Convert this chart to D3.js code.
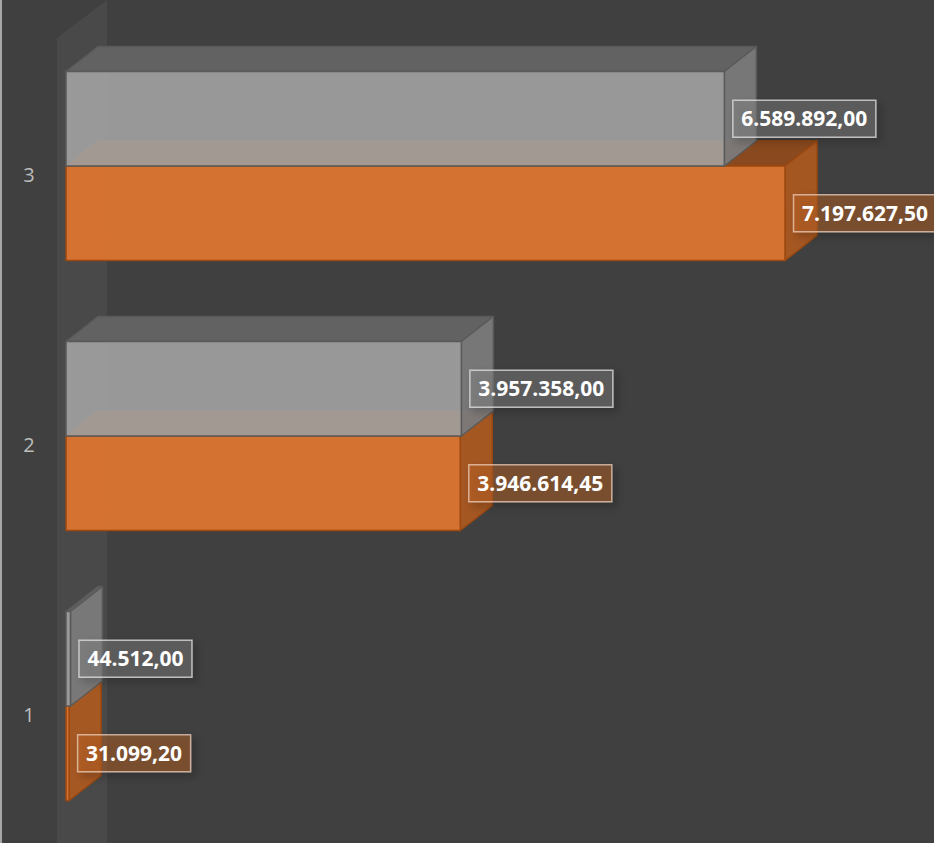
<!DOCTYPE html>
<html><head><meta charset="utf-8">
<script src="https://cdn.jsdelivr.net/npm/d3@7"></script>
<style>html,body{margin:0;padding:0;background:#404040;overflow:hidden}</style>
</head><body>
<svg id="c" width="934" height="843"></svg>
<script>
const categories = ["1", "2", "3"];
const seriesNames = ["Serie A", "Serie B"];
const seriesGray = [44512.00, 3957358.00, 6589892.00];
const seriesOrange = [31099.20, 3946614.45, 7197627.50];

const W = 934, H = 843;
const svg = d3.select("#c");
const defs = svg.append("defs");
const f = defs.append("filter").attr("id","sh").attr("x","-20%").attr("y","-30%").attr("width","150%").attr("height","180%");
f.append("feDropShadow").attr("dx",4).attr("dy",4).attr("stdDeviation",4).attr("flood-color","#000").attr("flood-opacity",0.45);

svg.append("rect").attr("width",W).attr("height",H).attr("fill","#404040");
svg.append("line").attr("x1",1).attr("x2",1).attr("y1",0).attr("y2",H).attr("stroke","#a8a8a8").attr("stroke-width",2);

const x = d3.scaleLinear().domain([0, 8000000]).range([66, 865.2]);
const y = d3.scaleBand().domain(categories.slice().reverse()).range([31, 841]).paddingInner(0.3).paddingOuter(0.15);
const ys = d3.scaleBand().domain(seriesNames).range([0, y.bandwidth()]);
const DX = 32, DY = -25;

// side wall
const wx = x(0) - 9;
svg.append("path").attr("d", `M${wx},38 L${wx+50},0 L${wx+50},${H} L${wx},${H} Z`).attr("fill","#4a4949");

const loc = d3.formatLocale({decimal:",", thousands:".", grouping:[3], currency:["",""]});
const fmt = loc.format(",.2f");

const styles = {
  "Serie A": {front:"#a6a6a6", top:"#646464", right:"#7c7c7c", stroke:"#5a5a5a", fo:0.86,
              boxFill:"rgba(140,140,140,0.35)", boxStroke:"rgba(225,225,225,0.75)"},
  "Serie B": {front:"#dc7531", top:"#8e4a1c", right:"#ad5920", stroke:"#9a4810", fo:0.95,
              boxFill:"rgba(190,100,40,0.42)", boxStroke:"rgba(235,205,185,0.75)"}
};

const rows = [];
categories.forEach((c,i)=>{
  rows.push({cat:c, s:"Serie B", v:seriesOrange[i]});
  rows.push({cat:c, s:"Serie A", v:seriesGray[i]});
});

function drawBox(g, d){
  const st = styles[d.s];
  const x0 = x(0), x1 = x(d.v);
  const y0 = y(d.cat) + ys(d.s), y1 = y0 + ys.bandwidth();
  g.append("path").attr("d",
    `M${x0+DX},${y0+DY} L${x0+DX},${y1+DY} L${x1+DX},${y1+DY} M${x0},${y1} L${x0+DX},${y1+DY}`)
    .attr("fill","none").attr("stroke",st.stroke).attr("stroke-width",1).attr("opacity",0.6);
  g.append("path").attr("d", `M${x0},${y0} L${x0+DX},${y0+DY} L${x1+DX},${y0+DY} L${x1},${y0} Z`)
    .attr("fill",st.top).attr("fill-opacity",0.95).attr("stroke",st.stroke).attr("stroke-width",1.5).attr("stroke-linejoin","round");
  g.append("path").attr("d", `M${x1},${y0} L${x1+DX},${y0+DY} L${x1+DX},${y1+DY} L${x1},${y1} Z`)
    .attr("fill",st.right).attr("fill-opacity",0.93).attr("stroke",st.stroke).attr("stroke-width",1.5).attr("stroke-linejoin","round");
  g.append("rect").attr("x",x0).attr("y",y0).attr("width",Math.max(0,x1-x0)).attr("height",y1-y0)
    .attr("fill",st.front).attr("fill-opacity",st.fo).attr("stroke",st.stroke).attr("stroke-width",1.5);
}

const bars = svg.append("g");
rows.forEach(d=>drawBox(bars.append("g"), d));

// category labels
svg.append("g").selectAll("text").data(categories).join("text")
  .attr("x",29).attr("y",d=>y(d)+ys.bandwidth()+15.5)
  .attr("text-anchor","middle").attr("font-family","Open Sans, sans-serif").attr("font-size",20)
  .attr("fill","#bdbdbd").text(d=>d);

// data labels
const lg = svg.append("g");
rows.forEach(d=>{
  const st = styles[d.s];
  const x1 = x(d.v);
  const cy = y(d.cat) + ys(d.s) + ys.bandwidth()/2;
  const g = lg.append("g");
  const r = g.append("rect");
  const t = g.append("text").attr("x", x1 + 17).attr("y", cy + 7.5)
    .attr("font-family","Open Sans, sans-serif").attr("font-weight",700).attr("font-size",21)
    .attr("fill","#ffffff").text(fmt(d.v));
  const bb = t.node().getBBox();
  r.attr("x", x1 + 8.5).attr("y", cy - 18.5).attr("width", bb.width + 17).attr("height", 37)
   .attr("fill", st.boxFill).attr("stroke", st.boxStroke).attr("stroke-width",1.5).attr("filter","url(#sh)");
});
</script>
</body></html>
